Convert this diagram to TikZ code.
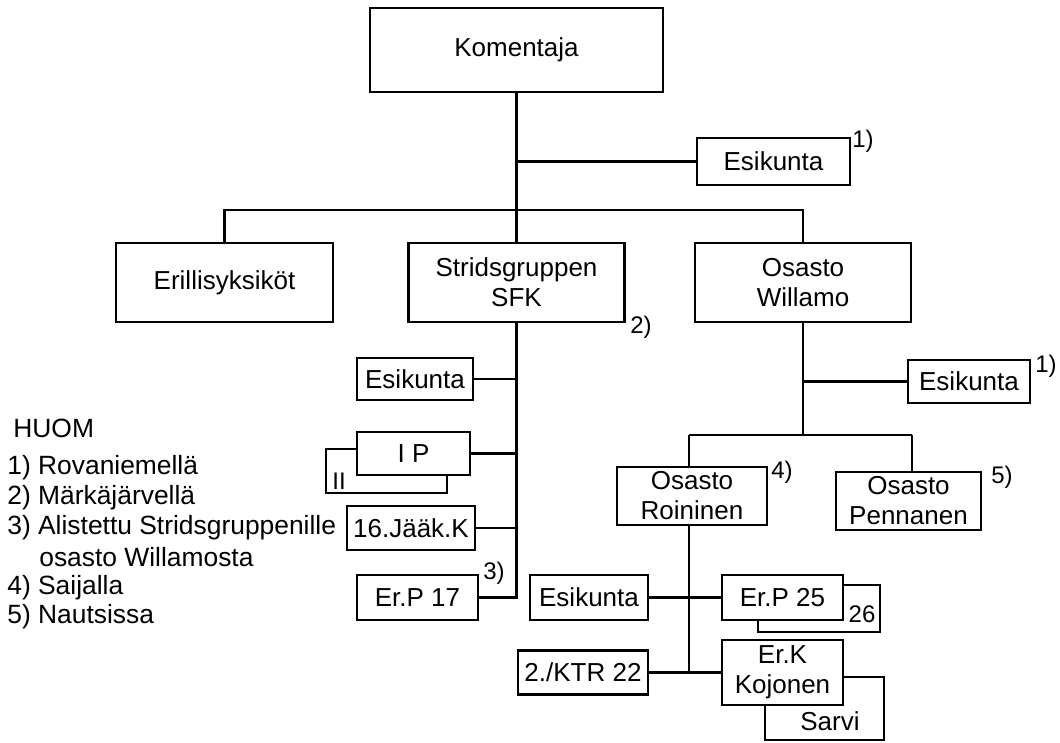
\documentclass[tikz,border=0pt]{standalone}
\usepackage{fontspec}
\setmainfont{Liberation Sans}
\begin{document}
\begin{tikzpicture}[x=1pt,y=-1pt,
  line width=2.7pt,
  box/.style={draw,rectangle,inner sep=0pt,align=center,fill=white,
    font=\fontsize{26}{30}\selectfont},
  note/.style={inner sep=0pt,font=\fontsize{24}{26}\selectfont},
  leg/.style={inner sep=0pt,anchor=west,font=\fontsize{26.4}{30}\selectfont}]
\useasboundingbox (0,0) rectangle (1060,743);
% top level
\node[box,minimum width=293pt,minimum height=84pt] (kom) at (516.5,50) {Komentaja};
\node[box,minimum width=153pt,minimum height=47pt] (esk1) at (773.5,161.5) {Esikunta};
\node[box,minimum width=217pt,minimum height=79pt] (eri) at (224.5,282.5) {Erillisyksiköt};
\node[box,minimum width=216pt,minimum height=79pt] (sfk) at (516.5,282.5) {Stridsgruppen\\SFK};
\node[box,minimum width=216pt,minimum height=79pt] (wil) at (803,282.5) {Osasto\\Willamo};
% Stridsgruppen subunits
\node[box,minimum width=116pt,minimum height=42pt] (esk2) at (415,379) {Esikunta};
\node[box,minimum width=121pt,minimum height=44pt] (ii) at (386.5,471) {};
\node[inner sep=0pt,font=\fontsize{24}{26}\selectfont] (iilab) at (339,481) {II};
\node[box,minimum width=113pt,minimum height=43pt] (ip) at (413.5,453.5) {I P};
\node[box,minimum width=128pt,minimum height=44pt] (jaak) at (411,528) {16.Jääk.K};
\node[box,minimum width=121pt,minimum height=45pt] (erp17) at (417.5,597.5) {Er.P 17};
% Willamo subunits
\node[box,minimum width=122pt,minimum height=43pt] (esk3) at (969,381.5) {Esikunta};
\node[box,minimum width=150pt,minimum height=58pt] (roi) at (692,496) {Osasto\\Roininen};
\node[box,minimum width=145pt,minimum height=58pt] (pen) at (908.5,501) {Osasto\\Pennanen};
% Roininen subunits
\node[box,minimum width=118pt,minimum height=45pt] (esk4) at (589,597.5) {Esikunta};
\node[box,minimum width=122pt,minimum height=47pt] (b26) at (819,608.5) {};
\node[inner sep=0pt,font=\fontsize{24}{26}\selectfont] (lab26) at (862,614) {26};
\node[box,minimum width=121pt,minimum height=45pt] (erp25) at (782.5,597.5) {Er.P 25};
\node[box,minimum width=130pt,minimum height=44pt] (ktr) at (583,672.5) {2./KTR 22};
\node[box,minimum width=119pt,minimum height=63pt] (sarvi) at (824.5,708.5) {};
\node[inner sep=0pt,font=\fontsize{26}{30}\selectfont] (sarvilab) at (830,721) {Sarvi};
\node[box,minimum width=121pt,minimum height=65pt] (kojo) at (782.5,672.5) {Er.K\\Kojonen};
% notes
\node[note] (n1a) at (863,141) {1)};
\node[note] (n2) at (641,327) {2)};
\node[note] (n3) at (494,573) {3)};
\node[note] (n1b) at (1046,366) {1)};
\node[note] (n4) at (782,472) {4)};
\node[note] (n5) at (1002,477) {5)};
% connectors: top
\coordinate (b1) at (516.5,210);
\draw (kom.south) -- (b1);
\draw (kom.south |- esk1.west) -- (esk1.west);
\draw (eri.north) |- (b1) -| (wil.north);
\draw (b1) -- (sfk.north);
% Stridsgruppen
\coordinate (s1) at (sfk.south |- erp17.east);
\draw (sfk.south) -- (s1) -- (erp17.east);
\draw (esk2.east) -- (sfk.south |- esk2.east);
\draw (ip.east) -- (sfk.south |- ip.east);
\draw (jaak.east) -- (sfk.south |- jaak.east);
% Willamo
\coordinate (b2) at (803,435);
\coordinate (rtop) at (689,435);
\coordinate (ptop) at (912,435);
\draw (wil.south) -- (b2);
\draw (wil.south |- esk3.west) -- (esk3.west);
\draw (rtop) -- (ptop);
\draw (rtop) -- (rtop |- roi.north);
\draw (ptop) -- (ptop |- pen.north);
% Roininen
\coordinate (rbot) at (rtop |- ktr.east);
\draw (rtop |- roi.south) -- (rbot);
\draw (esk4.east) -- (erp25.west);
\draw (ktr.east) -- (kojo.west);
% legend
\node[leg] (huom) at (12,428) {HUOM};
\node[leg] (l1) at (6,468) {1) Rovaniemellä};
\node[leg] (l2) at (6,498) {2) Märkäjärvellä};
\node[leg] (l3) at (6,528) {3) Alistettu Stridsgruppenille};
\node[leg] (l3b) at (38,557) {osasto Willamosta};
\node[leg] (l4) at (6,588) {4) Saijalla};
\node[leg] (l5) at (6,617) {5) Nautsissa};
\end{tikzpicture}
\end{document}
